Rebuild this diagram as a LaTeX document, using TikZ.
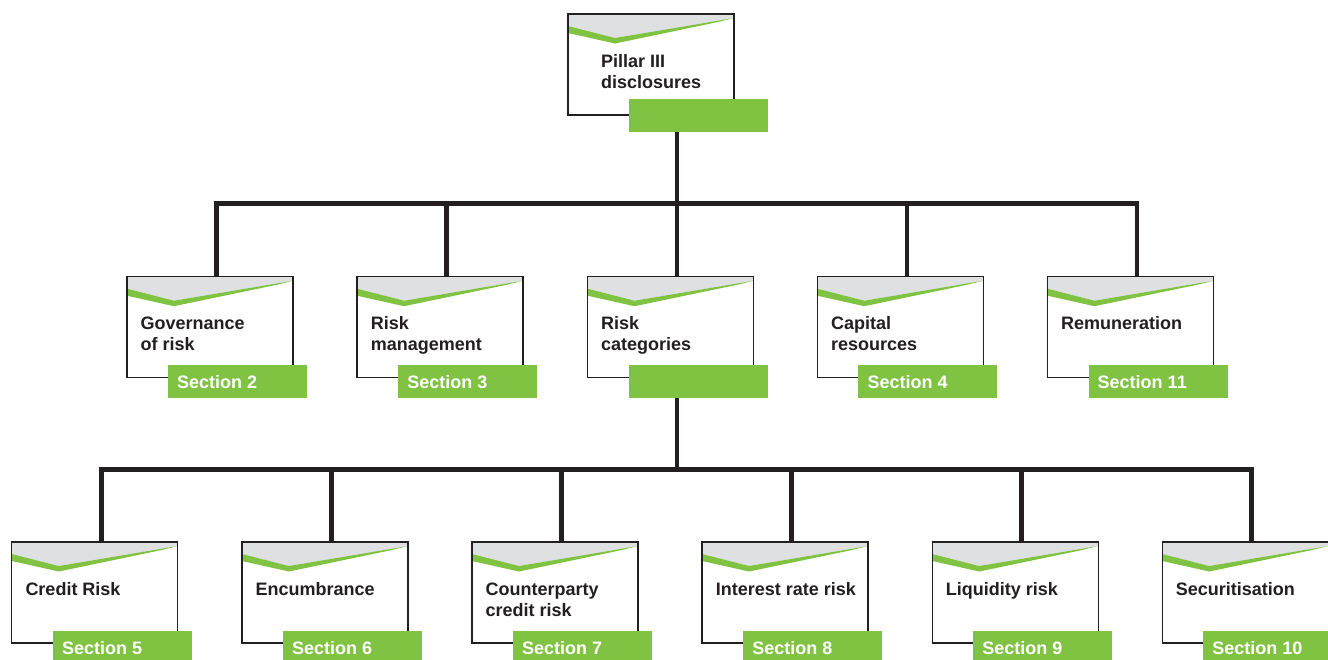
\documentclass[tikz,border=0pt]{standalone}
\usepackage{fontspec}
\setmainfont{Liberation Sans}
\definecolor{brandgreen}{RGB}{128,194,66}
\definecolor{headgray}{RGB}{223,224,226}
\definecolor{inkdark}{RGB}{35,31,32}
\tikzset{
  cardbox/.style={rectangle, fill=white, minimum width=166pt, minimum height=101pt, inner sep=0pt, outer sep=0pt},
  boxline/.style={draw=inkdark, line width=1.3pt},
  tabbox/.style={rectangle, fill=brandgreen, minimum width=139pt, minimum height=33pt, inner sep=0pt, outer sep=0pt},
  labeltext/.style={inner sep=0pt, text=inkdark, font=\fontsize{18}{21}\selectfont\bfseries},
  sectext/.style={inner sep=0pt, text=white, font=\fontsize{18}{21}\selectfont\bfseries},
  conn/.style={draw=inkdark, line width=4.6pt, line join=miter, line cap=rect}
}
% #1 name, #2 box left, #3 connector x, #4 box top, #5 label, #6 section, #7 tab offset
\newcommand\card[7]{%
  \node[cardbox, anchor=north west] (#1) at (#2,#4) {};
  \begin{scope}[shift={(#1.north west)}]
    \fill[headgray] (0,0) -- (166,0) -- (166,4) -- (47,24) -- (0,12) -- cycle;
    \fill[brandgreen] (0,12) -- (47,24) -- (166,4) -- (150,8) -- (47,29.5) -- (0,19) -- cycle;
  \end{scope}
  \draw[boxline] (#1.north west) rectangle (#1.south east);
  \node[labeltext, anchor=base west] (#1-t) at ({#3-76},{#4+53})
    {\begin{tabular}[t]{@{}l@{}}#5\end{tabular}};
  \node[tabbox, anchor=north west] (#1-tab) at ({#3-48.5},{#4+#7}) {};
  \node[sectext, anchor=base west] (#1-s) at ({#3-39.5},{#4+#7+23}) {#6};
  \coordinate (#1-in) at (#3,#4);
  \coordinate (#1-out) at (#3,{#4+#7+33});
}
\begin{document}
\begin{tikzpicture}[x=1pt,y=-1pt]
\clip (0,0) rectangle (1328,659);
\fill[white] (0,0) rectangle (1328,659);
% junction points
\coordinate (j1) at (677,203.7);
\coordinate (j2) at (677,469.7);
% connector end points
\coordinate (p-out) at (677,132);
\coordinate (gov-in) at (216.5,276.7);
\coordinate (rm-in) at (446.6,276.7);
\coordinate (rc-in) at (677,276.7);
\coordinate (cap-in) at (906.8,276.7);
\coordinate (rem-in) at (1137,276.7);
\coordinate (rc-out) at (677,397.7);
\coordinate (cr-in) at (101.3,542);
\coordinate (enc-in) at (331.4,542);
\coordinate (ccr-in) at (561.5,542);
\coordinate (irr-in) at (791.6,542);
\coordinate (liq-in) at (1021.7,542);
\coordinate (sec-in) at (1251.7,542);
\draw[conn] (p-out) -- (rc-in);
\draw[conn] (gov-in) |- (j1) -| (rem-in);
\draw[conn] (rm-in) -- (rm-in |- j1);
\draw[conn] (cap-in) -- (cap-in |- j1);
\draw[conn] (rc-out) -- (j2);
\draw[conn] (cr-in) |- (j2) -| (sec-in);
\draw[conn] (enc-in) -- (enc-in |- j2);
\draw[conn] (ccr-in) -- (ccr-in |- j2);
\draw[conn] (irr-in) -- (irr-in |- j2);
\draw[conn] (liq-in) -- (liq-in |- j2);
% cards
\card{pillar}{568}{677}{14}{Pillar III\\disclosures}{}{85}
\card{gov}{127}{216.5}{276.7}{Governance\\of risk}{Section 2}{88.3}
\card{rm}{357.1}{446.6}{276.7}{Risk\\management}{Section 3}{88.3}
\card{rc}{587.5}{677}{276.7}{Risk\\categories}{}{88.3}
\card{cap}{817.3}{906.8}{276.7}{Capital\\resources}{Section 4}{88.3}
\card{rem}{1047.5}{1137}{276.7}{Remuneration}{Section 11}{88.3}
\card{cr}{11.8}{101.3}{542}{Credit Risk}{Section 5}{89}
\card{enc}{241.9}{331.4}{542}{Encumbrance}{Section 6}{89}
\card{ccr}{472}{561.5}{542}{Counterparty\\credit risk}{Section 7}{89}
\card{irr}{702.1}{791.6}{542}{Interest rate risk}{Section 8}{89}
\card{liq}{932.2}{1021.7}{542}{Liquidity risk}{Section 9}{89}
\card{sec}{1162.2}{1251.7}{542}{Securitisation}{Section 10}{89}
\end{tikzpicture}
\end{document}
